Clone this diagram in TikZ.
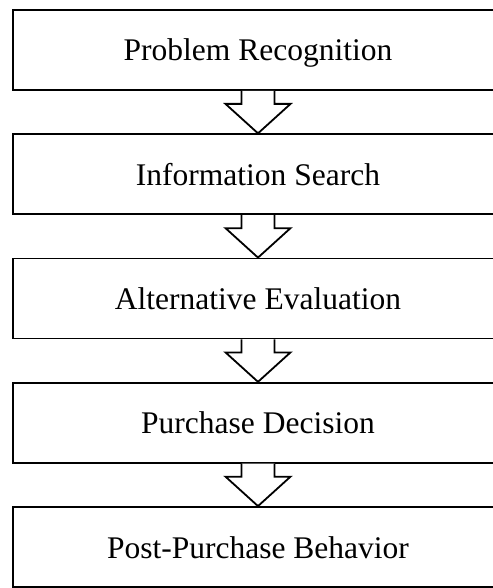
\documentclass[tikz,border=0pt]{standalone}
\usepackage{fontspec}
\setmainfont{Liberation Serif}
\begin{document}
\begin{tikzpicture}[x=1pt, y=1pt,
    etapa/.style={draw, line width=1.8pt, minimum width=490pt, minimum height=80pt,
        inner sep=0pt, text height=22pt, text depth=0pt,
        font=\fontsize{31.5}{38}\selectfont},
    flecha/.style={line width=1.8pt, fill=white, line join=miter}]
    \useasboundingbox (0,0) rectangle (492,-588);
    % Etapas
    \foreach \i/\nombre/\texto in {
        0/e1/Problem Recognition,
        1/e2/Information Search,
        2/e3/Alternative Evaluation,
        3/e4/Purchase Decision,
        4/e5/Post-Purchase Behavior
        } {
        \node[etapa] (\nombre) at (258, -50-124.25*\i) {\texto};
    }
    % Flechas
    \foreach \a/\b in {e1/e2, e2/e3, e3/e4, e4/e5} {
        \draw[flecha] ([xshift=-16.5pt]\a.south) -- ++(0,-13) coordinate (izq)
            -- ++(-16,0) -- (\b.north) -- ([xshift=49pt]izq) -- ++(-16,0) -- ++(0,13);
    }
\end{tikzpicture}
\end{document}
